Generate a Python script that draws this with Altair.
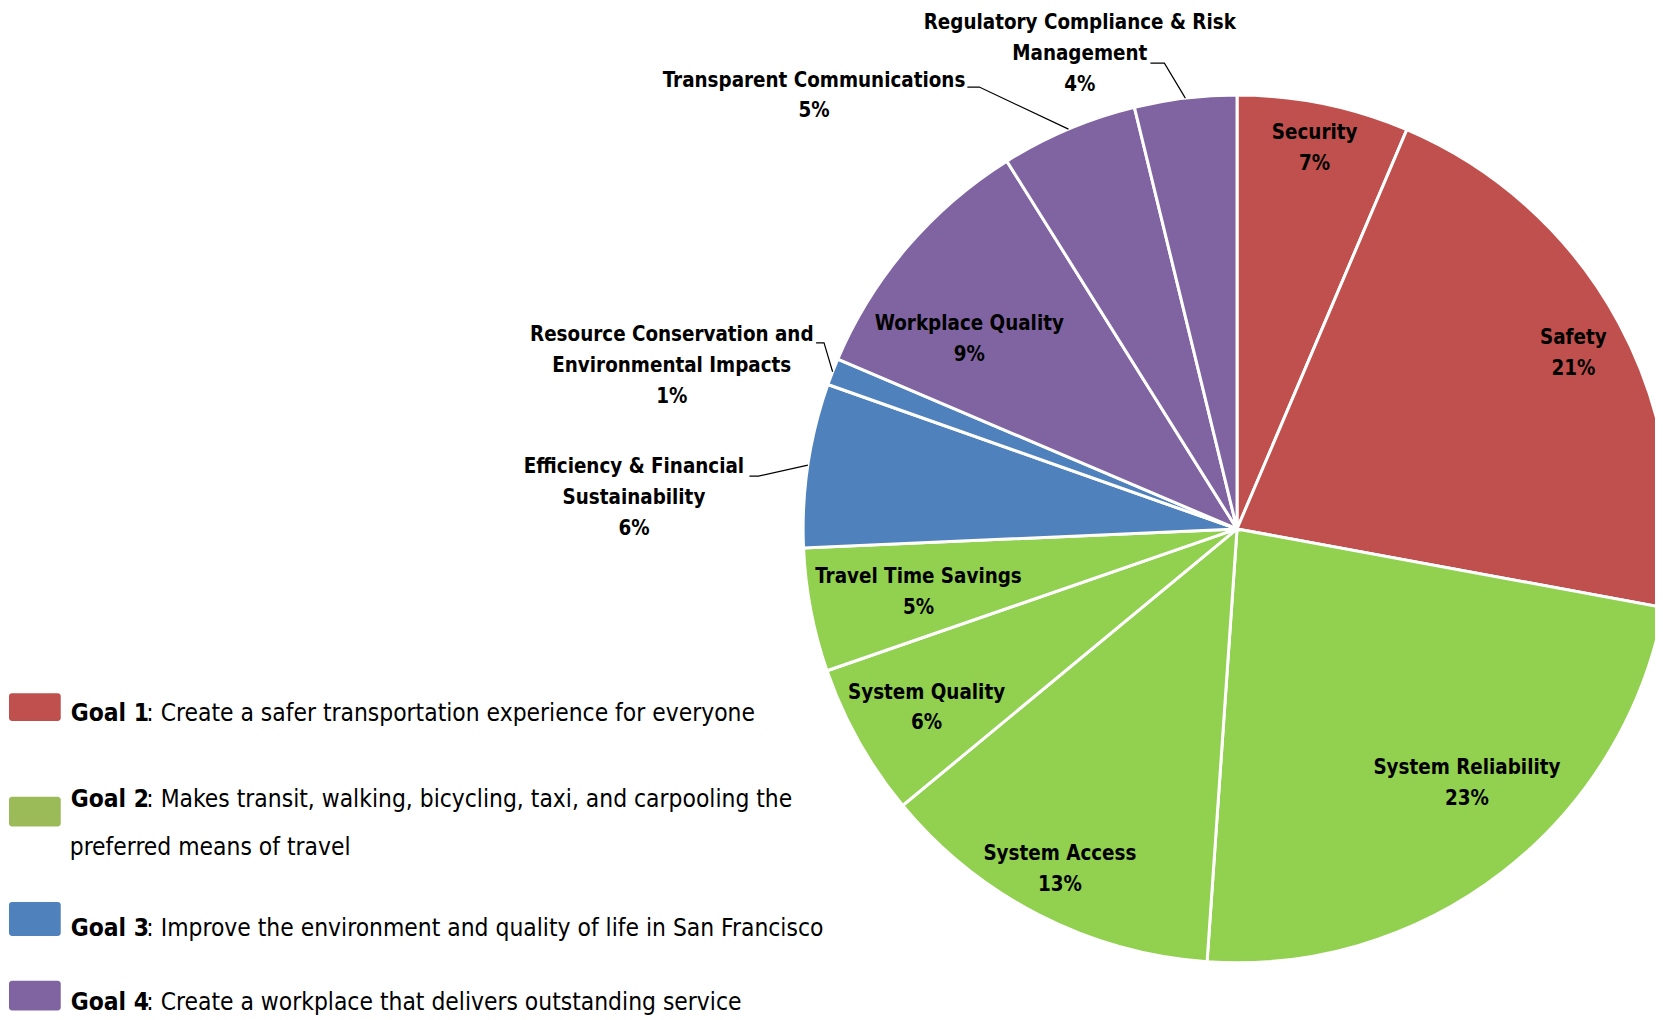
import math
import altair as alt
import pandas as pd

# ---------------- data ----------------
slice_names = [
    "Security", "Safety", "System Reliability", "System Access", "System Quality",
    "Travel Time Savings", "Efficiency & Financial Sustainability",
    "Resource Conservation and Environmental Impacts", "Workplace Quality",
    "Transparent Communications", "Regulatory Compliance & Risk Management",
]
slice_label_lines = [
    ["Security"], ["Safety"], ["System Reliability"], ["System Access"], ["System Quality"],
    ["Travel Time Savings"], ["Efficiency & Financial", "Sustainability"],
    ["Resource Conservation and", "Environmental Impacts"], ["Workplace Quality"],
    ["Transparent Communications"], ["Regulatory Compliance & Risk", "Management"],
]
slice_goal = ["Goal 1", "Goal 1", "Goal 2", "Goal 2", "Goal 2", "Goal 2",
              "Goal 3", "Goal 3", "Goal 4", "Goal 4", "Goal 4"]
slice_share = [6.4, 21.5, 23.2, 12.9, 5.7, 4.6, 6.1, 1.0, 9.7, 5.1, 3.8]
slice_pct_label = ["7%", "21%", "23%", "13%", "6%", "5%", "6%", "1%", "9%", "5%", "4%"]

goal_names = ["Goal 1", "Goal 2", "Goal 3", "Goal 4"]
goal_desc = [
    ": Create a safer transportation experience for everyone",
    ": Makes transit, walking, bicycling, taxi, and carpooling the",
    ": Improve the environment and quality of life in San Francisco",
    ": Create a workplace that delivers outstanding service",
]
goal2_continuation = "preferred means of travel"

pie_colors = ["#C0504D", "#92D050", "#4F81BD", "#8064A2"]
swatch_colors = ["#C0504D", "#9BBB59", "#4F81BD", "#8064A2"]

# ---------------- layout ----------------
W, H = 1655, 1012
CX, CY, R = 1235, 521, 436
FONT = "DejaVu Sans Condensed, sans-serif"
LABEL_SIZE = 20.5
LINE_H = 31
LEG_SIZE = 24.5

# label block centres, as offsets from the pie centre (px)
label_offset = {
    "Security": (78, -382), "Safety": (338, -176), "System Reliability": (231, 256),
    "System Access": (-178, 342), "System Quality": (-312, 180),
    "Travel Time Savings": (-320, 64), "Efficiency & Financial Sustainability": (-606, -31),
    "Resource Conservation and Environmental Impacts": (-568, -164),
    "Workplace Quality": (-269, -190), "Transparent Communications": (-425, -435),
    "Regulatory Compliance & Risk Management": (-158, -477),
}
# leader lines: label end and elbow (offsets from pie centre); the end on the rim is computed
leader_offset = {
    "Regulatory Compliance & Risk Management": [(-87, -468), (-73, -468)],
    "Transparent Communications": [(-271, -444), (-259, -444)],
    "Resource Conservation and Environmental Impacts": [(-423, -187), (-415, -187)],
    "Efficiency & Financial Sustainability": [(-490, -53), (-481, -53)],
}
leg_x_swatch = (1, 53)
leg_swatch_y = [(686, 714), (790, 820), (896, 930), (975, 1005)]
leg_baseline = [714, 800, 930, 1004]
leg_text_x = 63
leg_desc_x = 139
leg_cont = (62, 849)

xs = alt.Scale(domain=[0, W], nice=False, zero=False)
ys = alt.Scale(domain=[0, H], nice=False, zero=False, reverse=True)

# ---------------- pie ----------------
pie_df = pd.DataFrame({
    "name": slice_names, "goal": slice_goal, "share": slice_share,
    "idx": list(range(len(slice_names))),
})
pie = alt.Chart(pie_df).mark_arc(radius=R, stroke="white", strokeWidth=3).encode(
    theta=alt.Theta("share:Q", stack=True),
    order=alt.Order("idx:Q"),
    color=alt.Color("goal:N", scale=alt.Scale(domain=goal_names, range=pie_colors), legend=None),
    x=alt.value(CX), y=alt.value(CY),
)

# ---------------- labels ----------------
lab_rows = []
for n, lines, p in zip(slice_names, slice_label_lines, slice_pct_label):
    dx, dy = label_offset[n]
    txt = lines + [p]
    # first line position so that the whole block is centred on the anchor
    lab_rows.append({"name": n, "txt": txt, "x": CX + dx,
                     "y": CY + dy - (len(txt) - 1) * LINE_H / 2.0})
labels = alt.Chart(pd.DataFrame(lab_rows)).mark_text(
    font=FONT, fontSize=LABEL_SIZE, fontWeight="bold", color="#000000",
    align="center", baseline="middle", lineHeight=LINE_H,
).encode(
    x=alt.X("x:Q", scale=xs, axis=None), y=alt.Y("y:Q", scale=ys, axis=None), text="txt",
)

# ---------------- leader lines ----------------
cum = 0.0
mid_angle = {}
for n, s in zip(slice_names, slice_share):
    mid_angle[n] = 2 * math.pi * (cum + s / 2) / 100.0
    cum += s
lead_rows = []
for n, pts in leader_offset.items():
    for i, (dx, dy) in enumerate(pts):
        lead_rows.append({"name": n, "pt": i, "x": CX + dx, "y": CY + dy})
    a = mid_angle[n]
    lead_rows.append({"name": n, "pt": len(pts), "x": CX + R * math.sin(a), "y": CY - R * math.cos(a)})
leaders = alt.Chart(pd.DataFrame(lead_rows)).mark_line(color="#000000", strokeWidth=1.2).encode(
    x=alt.X("x:Q", scale=xs, axis=None), y=alt.Y("y:Q", scale=ys, axis=None),
    detail="name:N", order="pt:Q",
)

# ---------------- legend ----------------
sw_df = pd.DataFrame({
    "goal": goal_names,
    "x": [leg_x_swatch[0]] * 4, "x2": [leg_x_swatch[1]] * 4,
    "y": [a for a, b in leg_swatch_y], "y2": [b for a, b in leg_swatch_y],
})
swatches = alt.Chart(sw_df).mark_rect(cornerRadius=3).encode(
    x=alt.X("x:Q", scale=xs, axis=None), x2="x2:Q",
    y=alt.Y("y:Q", scale=ys, axis=None), y2="y2:Q",
    color=alt.Color("goal:N", scale=alt.Scale(domain=goal_names, range=swatch_colors), legend=None),
)
lg_df = pd.DataFrame({"goal": goal_names, "desc": goal_desc, "y": leg_baseline,
                      "xb": [leg_text_x] * 4, "xd": [leg_desc_x] * 4})
leg_bold = alt.Chart(lg_df).mark_text(
    font=FONT, fontSize=LEG_SIZE, fontWeight="bold", color="#000000", align="left", baseline="alphabetic",
).encode(x=alt.X("xb:Q", scale=xs, axis=None), y=alt.Y("y:Q", scale=ys, axis=None), text="goal:N")
cont_df = pd.DataFrame({"desc": [goal2_continuation], "xd": [leg_cont[0]], "y": [leg_cont[1]]})
leg_desc = alt.Chart(pd.concat([lg_df[["desc", "xd", "y"]], cont_df], ignore_index=True)).mark_text(
    font=FONT, fontSize=LEG_SIZE, fontWeight="normal", color="#000000", align="left", baseline="alphabetic",
).encode(x=alt.X("xd:Q", scale=xs, axis=None), y=alt.Y("y:Q", scale=ys, axis=None), text="desc:N")

chart = alt.layer(pie, leaders, labels, swatches, leg_bold, leg_desc).resolve_scale(
    color="independent"
).properties(
    width=W, height=H, padding=0, autosize=alt.AutoSizeParams(type="none"), background="white",
).configure_view(stroke=None)

chart.save("out.html", embed_options={"renderer": "svg", "actions": False})
